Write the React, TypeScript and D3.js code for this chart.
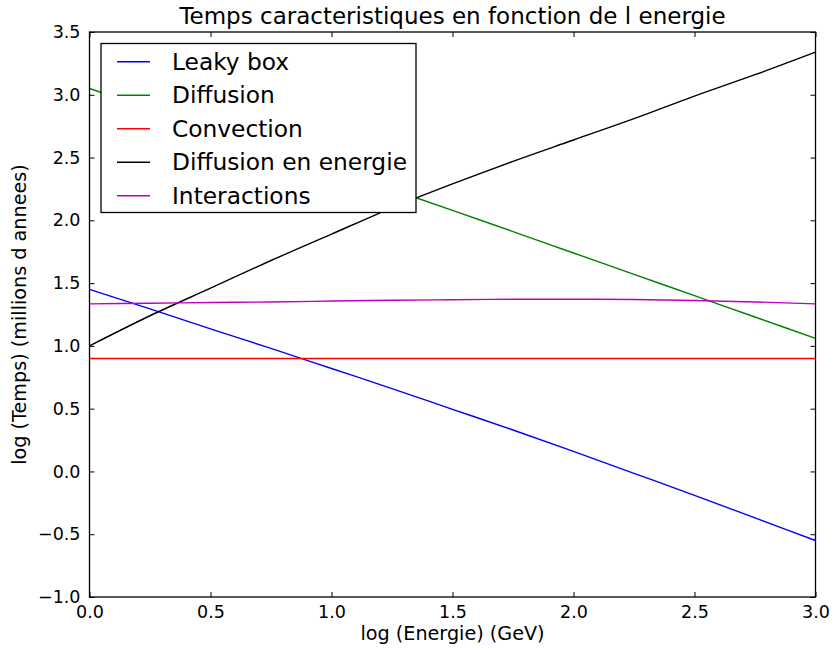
import { useEffect, useRef } from "react";
import * as d3 from "d3";

// log(Energie) sample points
const energie = [0, 0.25, 0.5, 0.75, 1.0, 1.25, 1.5, 1.75, 2.0, 2.25, 2.5, 2.75, 3.0];

const leakyBox = [1.45, 1.295, 1.135, 0.98, 0.82, 0.66, 0.495, 0.33, 0.16, -0.015, -0.19, -0.37, -0.55];
const diffusion = [3.05, 2.89, 2.73, 2.57, 2.41, 2.245, 2.08, 1.91, 1.74, 1.57, 1.4, 1.23, 1.06];
const convection = [0.9, 0.9, 0.9, 0.9, 0.9, 0.9, 0.9, 0.9, 0.9, 0.9, 0.9, 0.9, 0.9];
const diffEnergie = [1.0, 1.24, 1.46, 1.68, 1.89, 2.1, 2.29, 2.47, 2.64, 2.81, 2.99, 3.16, 3.34];
const interactions = [1.335, 1.34, 1.345, 1.35, 1.357, 1.363, 1.368, 1.371, 1.372, 1.37, 1.362, 1.35, 1.335];

const seriesNames = ["Leaky box", "Diffusion", "Convection", "Diffusion en energie", "Interactions"];
const seriesColors = ["#0000ff", "#008000", "#ff0000", "#000000", "#bf00bf"];

const xTicks = [0, 0.5, 1.0, 1.5, 2.0, 2.5, 3.0];
const yTicks = [-1.0, -0.5, 0, 0.5, 1.0, 1.5, 2.0, 2.5, 3.0, 3.5];

const width = 832;
const height = 648;
const margin = { top: 32, right: 16.5, bottom: 51, left: 89.5 };
const font = "DejaVu Sans, sans-serif";

const fmt = (v: number) => d3.format(".1f")(v).replace("-", "\u2212");

export default function App() {
  const svgRef = useRef<SVGSVGElement>(null);

  useEffect(() => {
    const svg = d3.select(svgRef.current);
    svg.selectAll("*").remove();

    const boundsWidth = width - margin.left - margin.right;
    const boundsHeight = height - margin.top - margin.bottom;

    const xScale = d3.scaleLinear().domain([0, 3]).range([0, boundsWidth]);
    const yScale = d3.scaleLinear().domain([-1, 3.5]).range([boundsHeight, 0]);

    svg.append("rect").attr("width", width).attr("height", height).attr("fill", "#fff");

    const g = svg.append("g").attr("transform", `translate(${margin.left},${margin.top})`);

    const allSeries = [leakyBox, diffusion, convection, diffEnergie, interactions];

    const line = d3
      .line<number>()
      .x((_, i) => xScale(energie[i]))
      .y((d) => yScale(d))
      .curve(d3.curveMonotoneX);

    // clip to plot area
    svg
      .append("clipPath")
      .attr("id", "plotclip")
      .append("rect")
      .attr("width", boundsWidth)
      .attr("height", boundsHeight);

    const lines = g.append("g").attr("clip-path", "url(#plotclip)");
    allSeries.forEach((s, i) => {
      lines
        .append("path")
        .datum(s)
        .attr("fill", "none")
        .attr("stroke", seriesColors[i])
        .attr("stroke-width", 1.4)
        .attr("d", line);
    });

    // Ticks inside, on all four sides
    const tickLen = 5;
    const xAxisB = d3.axisBottom(xScale).tickValues(xTicks).tickSizeInner(-tickLen).tickSizeOuter(0).tickFormat(fmt as any).tickPadding(9);
    const xAxisT = d3.axisTop(xScale).tickValues(xTicks).tickSizeInner(-tickLen).tickSizeOuter(0).tickFormat(() => "");
    const yAxisL = d3.axisLeft(yScale).tickValues(yTicks).tickSizeInner(-tickLen).tickSizeOuter(0).tickFormat(fmt as any).tickPadding(9);
    const yAxisR = d3.axisRight(yScale).tickValues(yTicks).tickSizeInner(-tickLen).tickSizeOuter(0).tickFormat(() => "");

    const axes = [
      g.append("g").attr("transform", `translate(0,${boundsHeight})`).call(xAxisB),
      g.append("g").call(xAxisT),
      g.append("g").call(yAxisL),
      g.append("g").attr("transform", `translate(${boundsWidth},0)`).call(yAxisR),
    ];
    axes.forEach((a) => {
      a.select(".domain").remove();
      a.selectAll("line").attr("stroke", "#000").attr("stroke-width", 1);
      a.selectAll("text").attr("fill", "#000").style("font-family", font).style("font-size", "17.5px");
    });

    // Frame
    g.append("rect")
      .attr("width", boundsWidth)
      .attr("height", boundsHeight)
      .attr("fill", "none")
      .attr("stroke", "#000")
      .attr("stroke-width", 1.3);

    // Title and labels
    svg
      .append("text")
      .attr("x", margin.left + boundsWidth / 2)
      .attr("y", 24)
      .attr("text-anchor", "middle")
      .style("font-family", font)
      .style("font-size", "23px")
      .text("Temps caracteristiques en fonction de l energie");

    svg
      .append("text")
      .attr("x", margin.left + boundsWidth / 2)
      .attr("y", 640)
      .attr("text-anchor", "middle")
      .style("font-family", font)
      .style("font-size", "19.2px")
      .text("log (Energie) (GeV)");

    svg
      .append("text")
      .attr("transform", `translate(26,${margin.top + boundsHeight / 2}) rotate(-90)`)
      .attr("text-anchor", "middle")
      .style("font-family", font)
      .style("font-size", "19.2px")
      .text("log (Temps) (millions d annees)");

    // Legend
    const legend = svg.append("g");
    legend
      .append("rect")
      .attr("x", 101)
      .attr("y", 43.5)
      .attr("width", 315)
      .attr("height", 169)
      .attr("fill", "#fff")
      .attr("stroke", "#000")
      .attr("stroke-width", 1.3);

    seriesNames.forEach((name, i) => {
      const y = 61.7 + i * 33.5;
      legend
        .append("line")
        .attr("x1", 117)
        .attr("x2", 150)
        .attr("y1", y)
        .attr("y2", y)
        .attr("stroke", seriesColors[i])
        .attr("stroke-width", 1.4);
      legend
        .append("text")
        .attr("x", 172)
        .attr("y", y)
        .attr("dy", "0.35em")
        .style("font-family", font)
        .style("font-size", "23.3px")
        .text(name);
    });
  }, []);

  return (
    <svg
      ref={svgRef}
      width={width}
      height={height}
      style={{ position: "absolute", left: 0, top: 0 }}
    ></svg>
  );
}
